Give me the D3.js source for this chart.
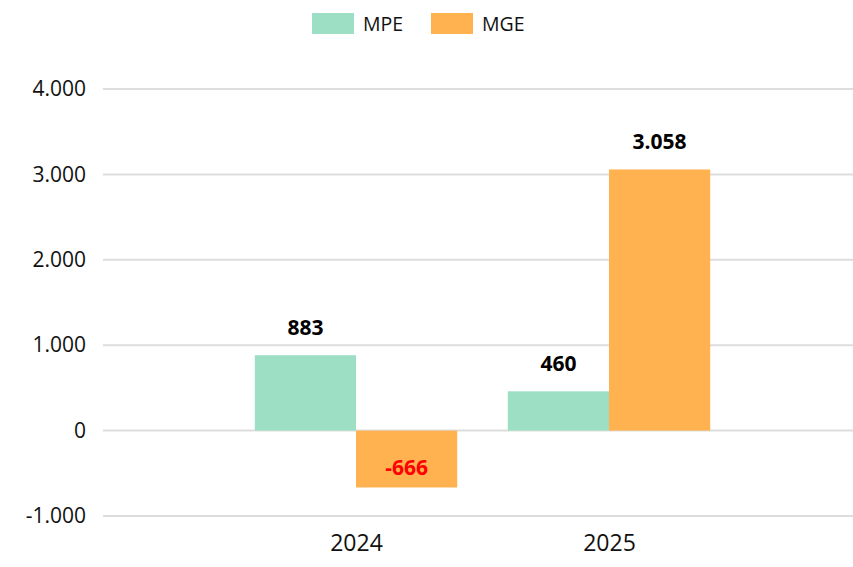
<!DOCTYPE html>
<html>
<head>
<meta charset="utf-8">
<script src="https://cdn.jsdelivr.net/npm/d3@7"></script>
<style>
  body { margin: 0; background: #fff; }
  text { font-family: "Open Sans", "Noto Sans", sans-serif; }
</style>
</head>
<body>
<div id="chart"></div>
<script>
// Data
const years = ['2024', '2025'];
const seriesNames = ['MPE', 'MGE'];
const mpeValues = [883, 460];
const mgeValues = [-666, 3058];
const yTicks = [-1000, 0, 1000, 2000, 3000, 4000];
const colors = { MPE: '#9ddfc4', MGE: '#ffb24f' };

const width = 853, height = 567;
const margin = { top: 89, right: 0, bottom: 51, left: 103 };

// thousands with dots, plain hyphen for negatives
const fmt = d => d3.format(',')(d).replace(/,/g, '.').replace('\u2212', '-');

const svg = d3.select('#chart').append('svg')
  .attr('width', width).attr('height', height);

// scales
const x = d3.scalePoint().domain(years).range([margin.left, width + 9]).padding(1);
const step = x.step();
const xInner = d3.scaleBand().domain(seriesNames).range([-step * 0.4, step * 0.4]);
const y = d3.scaleLinear().domain([-1000, 4000]).range([516, 89]);

// grid
svg.append('g').selectAll('line').data(yTicks).enter()
  .append('line')
  .attr('x1', margin.left).attr('x2', width)
  .attr('y1', d => y(d)).attr('y2', d => y(d))
  .style('stroke', '#dddddd').style('stroke-width', 2);

// y labels
const yAxis = d3.axisLeft(y).tickValues(yTicks).tickFormat(fmt).tickSize(0).tickPadding(17);
const yAxisDraw = svg.append('g')
  .attr('transform', `translate(${margin.left},0)`)
  .call(yAxis);
yAxisDraw.select('.domain').remove();
yAxisDraw.selectAll('text')
  .style('font-family', '"Open Sans", "Noto Sans", sans-serif')
  .style('font-size', '21px').style('fill', '#111');

// x labels
const xAxis = d3.axisBottom(x).tickSize(0).tickPadding(0);
const xAxisDraw = svg.append('g')
  .attr('transform', 'translate(0,535)')
  .call(xAxis);
xAxisDraw.select('.domain').remove();
xAxisDraw.selectAll('text')
  .style('font-family', '"Open Sans", "Noto Sans", sans-serif')
  .style('font-size', '23px').style('fill', '#111');

// bars
const rows = [];
years.forEach((yr, i) => {
  rows.push({ year: yr, key: 'MPE', value: mpeValues[i] });
  rows.push({ year: yr, key: 'MGE', value: mgeValues[i] });
});

svg.append('g').selectAll('rect').data(rows).enter()
  .append('rect')
  .attr('x', d => x(d.year) + xInner(d.key))
  .attr('width', xInner.bandwidth())
  .attr('y', d => y(Math.max(0, d.value)))
  .attr('height', d => Math.abs(y(d.value) - y(0)))
  .style('fill', d => colors[d.key]);

// value labels
svg.append('g').selectAll('text').data(rows).enter()
  .append('text')
  .attr('x', d => x(d.year) + xInner(d.key) + xInner.bandwidth() / 2)
  .attr('y', d => d.value >= 0 ? y(d.value) - 20 : y(d.value) - 12)
  .attr('text-anchor', 'middle')
  .style('font-size', '21px').style('font-weight', 'bold')
  .style('fill', d => d.value < 0 ? '#ff0000' : '#000')
  .text(d => fmt(d.value));

// legend
const legend = svg.append('g').selectAll('g').data(seriesNames).enter()
  .append('g')
  .attr('transform', (d, i) => `translate(${312 + i * 119},13)`);
legend.append('rect')
  .attr('width', 42).attr('height', 21)
  .style('fill', d => colors[d]);
legend.append('text')
  .attr('x', 51).attr('y', 18)
  .style('font-size', '19.5px').style('fill', '#111')
  .text(d => d);
</script>
</body>
</html>
